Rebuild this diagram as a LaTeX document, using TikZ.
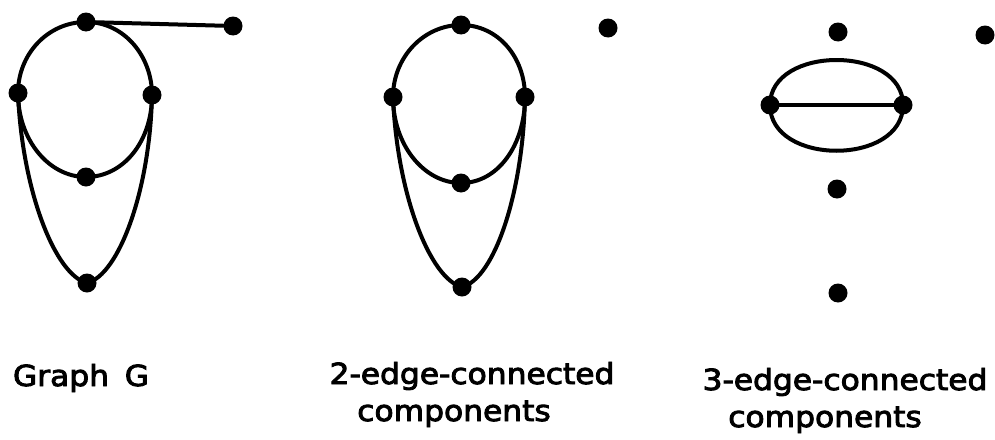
\documentclass[tikz,border=0pt]{standalone}
\usepackage{fontspec}
\setmainfont{DejaVu Sans}
\newfontfamily\lblfont{DejaVu Sans}[FakeBold=3]
\begin{document}
\begin{tikzpicture}[x=1pt,y=-1pt,
  vdot/.style={circle,fill=black,draw=none,inner sep=0pt,minimum size=19pt},
  edge/.style={line width=4pt,line cap=round},
  lbl/.style={inner sep=0pt,anchor=base,font=\lblfont\fontsize{29}{34}\selectfont}]
\useasboundingbox (0,0) rectangle (995,439);
% Graph G
\node[vdot] (gt) at (86,22) {};
\node[vdot] (gp) at (233,26) {};
\node[vdot] (gl) at (18,93) {};
\node[vdot] (gr) at (152,95) {};
\node[vdot] (gm) at (86,177) {};
\node[vdot] (gb) at (87,283) {};
\draw[edge] (gt) -- (gp);
\draw[edge] (gl.center) .. controls (18,54) and (48,22) .. (gt.center);
\draw[edge] (gt.center) .. controls (124,22) and (152,56) .. (gr.center);
\draw[edge] (gl.center) .. controls (18,140) and (49,177) .. (gm.center);
\draw[edge] (gm.center) .. controls (123,177) and (152,142) .. (gr.center);
\draw[edge] (gl.center) .. controls (22,190) and (55,275) .. (gb.center);
\draw[edge] (gb.center) .. controls (119,275) and (150,190) .. (gr.center);
% 2-edge-connected components
\node[vdot] (at) at (461,25) {};
\node[vdot] (ap) at (608,28) {};
\node[vdot] (al) at (393,97) {};
\node[vdot] (ar) at (525,97) {};
\node[vdot] (am) at (461,183) {};
\node[vdot] (ab) at (462,287) {};
\draw[edge] (al.center) .. controls (393,57) and (424,25) .. (at.center);
\draw[edge] (at.center) .. controls (498,25) and (525,57) .. (ar.center);
\draw[edge] (al.center) .. controls (393,145) and (424,183) .. (am.center);
\draw[edge] (am.center) .. controls (498,183) and (525,145) .. (ar.center);
\draw[edge] (al.center) .. controls (397,194) and (430,279) .. (ab.center);
\draw[edge] (ab.center) .. controls (494,279) and (523,194) .. (ar.center);
% 3-edge-connected components
\node[vdot] (bt) at (838,32) {};
\node[vdot] (bp) at (985,35) {};
\node[vdot] (bl) at (770,105) {};
\node[vdot] (br) at (903,105) {};
\node[vdot] (bm) at (837,189) {};
\node[vdot] (bb) at (838,293) {};
\draw[edge] (bl) -- (br);
\draw[edge] (bl.center) .. controls (770,45) and (903,45) .. (br.center);
\draw[edge] (bl.center) .. controls (770,166) and (903,166) .. (br.center);
% labels
\node[lbl] (l1) at (81,386) {\scalebox{1.08}[1]{Graph\hspace{0.5em}G}};
\node[lbl] (l2) at (472,384) {\scalebox{1.08}[1]{2-edge-connected}};
\node[lbl] (l3) at (454,421) {\scalebox{1.08}[1]{components}};
\node[lbl] (l4) at (845,390) {\scalebox{1.08}[1]{3-edge-connected}};
\node[lbl] (l5) at (825,427) {\scalebox{1.08}[1]{components}};
\end{tikzpicture}
\end{document}
